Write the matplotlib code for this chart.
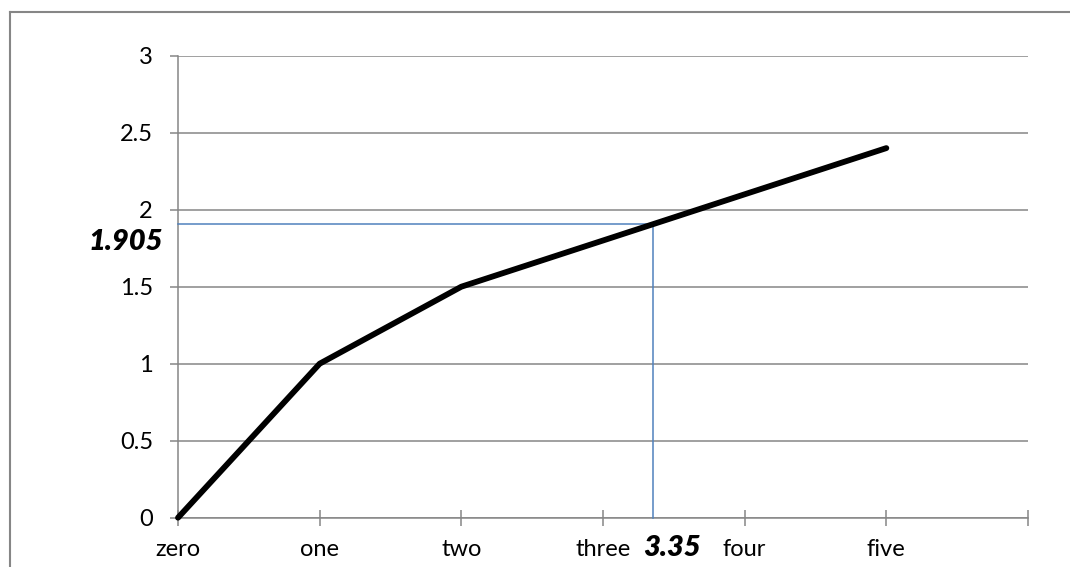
import matplotlib
matplotlib.use('Agg')
import matplotlib.pyplot as plt
from matplotlib.lines import Line2D

# --------------------------- Data ---------------------------
categories = ['zero', 'one', 'two', 'three', 'four', 'five']
values = [0, 1, 1.5, 1.8, 2.1, 2.4]
read_x = 3.35
read_y = 1.905
y_ticks = [0, 0.5, 1, 1.5, 2, 2.5, 3]

# --------------------------- Style ---------------------------
plt.rcParams['font.family'] = ['Lato', 'DejaVu Sans']
grey = '#868686'
blue = '#4F81BD'

fig = plt.figure(figsize=(10.7, 5.67), dpi=100)
ax = fig.add_axes([178 / 1070, 1 - 517.7 / 567, 850 / 1070, 462 / 567])

# main line
ax.plot(range(len(categories)), values, color='black', lw=4.2,
        solid_capstyle='round', solid_joinstyle='round', clip_on=False, zorder=4)

# reading lines
ax.plot([0, read_x], [read_y, read_y], color=blue, lw=1.1, zorder=3, clip_on=False)
ax.plot([read_x, read_x], [read_y, 0], color=blue, lw=1.1, zorder=3, clip_on=False)

ax.set_xlim(0, len(categories))
ax.set_ylim(0, 3)
ax.set_xticks(range(len(categories) + 1))
ax.set_xticklabels(categories + [''])
ax.set_yticks(y_ticks)
ax.set_yticklabels([f'{t:g}' for t in y_ticks])

ax.yaxis.grid(True, color=grey, lw=1.1)
ax.set_axisbelow(True)
for s in ['top', 'right']:
    ax.spines[s].set_visible(False)
for s in ['left', 'bottom']:
    ax.spines[s].set_color(grey)
    ax.spines[s].set_linewidth(1.1)

ax.tick_params(axis='x', direction='inout', length=12, width=1.1, color=grey,
               labelsize=17, pad=9)
ax.tick_params(axis='y', direction='out', length=6, width=1.1, color=grey,
               labelsize=17, pad=12)

# annotations
ax.annotate(f'{read_y:g}', xy=(0, read_y), xytext=(-11, -12.5), textcoords='offset points',
            ha='right', va='center', fontsize=21, fontweight='heavy', fontstyle='italic')
ax.annotate(f'{read_x:g}', xy=(read_x, 0), xytext=(14, -22), textcoords='offset points',
            ha='center', va='center', fontsize=21, fontweight='heavy', fontstyle='italic',
            annotation_clip=False)

# outer chart border (top and left only visible)
fig.add_artist(Line2D([10 / 1070, 1.0], [1 - 12 / 567, 1 - 12 / 567], color=grey, lw=1.5))
fig.add_artist(Line2D([10 / 1070, 10 / 1070], [0, 1 - 12 / 567], color=grey, lw=1.5))

fig.savefig('out.png', dpi=100)
